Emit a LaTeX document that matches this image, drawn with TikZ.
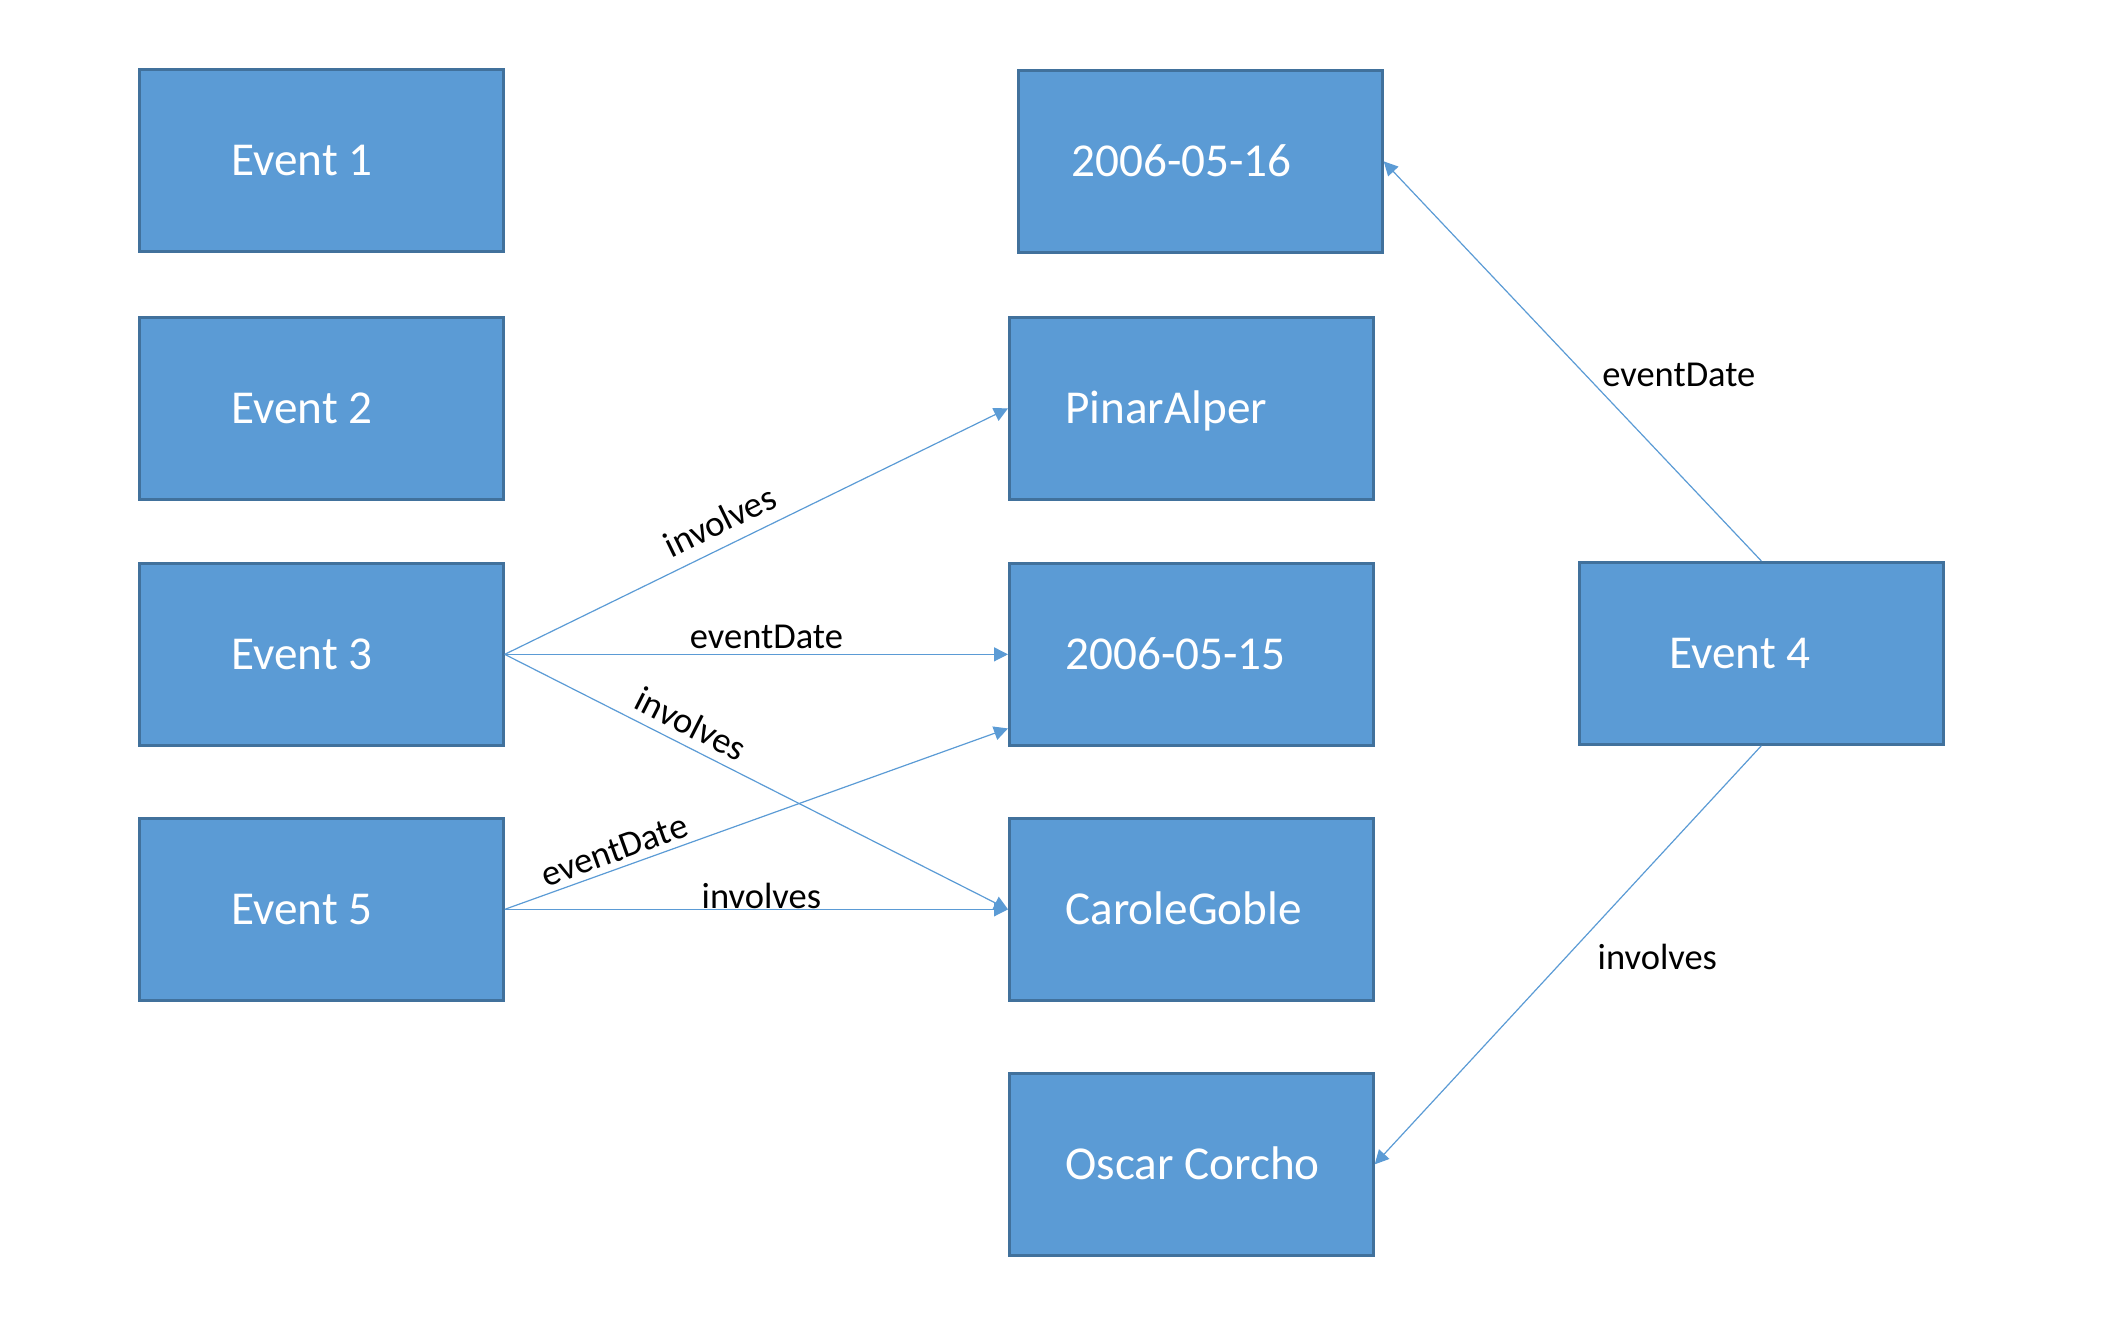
\documentclass[tikz,border=0pt]{standalone}
\usepackage{fontspec}
\setmainfont{Carlito}
\usetikzlibrary{arrows.meta}
\definecolor{boxfill}{HTML}{5B9BD5}
\definecolor{boxline}{HTML}{41719C}
\definecolor{arrowc}{HTML}{5B9BD5}
\begin{document}
\begin{tikzpicture}[x=1pt,y=-1pt,
  box/.style={draw=boxline, fill=boxfill, line width=2.7pt, anchor=north west,
    minimum height=182pt, text=white, font=\fontsize{47.2}{47.2}\selectfont,
    text height=29.8pt, text depth=0pt, inner ysep=0pt},
  conn/.style={draw=arrowc, line width=1.2pt, -{Triangle[length=14pt,width=14pt]}},
  lbl/.style={text=black, font=\fontsize{36.5}{36.5}\selectfont, inner sep=0pt}
]
\useasboundingbox (0,0) rectangle (2128,1328);
\node[box, inner xsep=92pt] (e1) at (138,68) {\makebox[180pt][l]{Event 1}};
\node[box, inner xsep=92pt] (e2) at (138,316) {\makebox[180pt][l]{Event 2}};
\node[box, inner xsep=92pt] (e3) at (138,562) {\makebox[180pt][l]{Event 3}};
\node[box, inner xsep=92pt] (e5) at (138,817) {\makebox[180pt][l]{Event 5}};
\node[box, inner xsep=53pt] (d16) at (1017,69) {\makebox[258pt][l]{2006-05-16}};
\node[box, inner xsep=56pt] (pa) at (1008,316) {\makebox[252pt][l]{PinarAlper}};
\node[box, inner xsep=56pt] (d15) at (1008,562) {\makebox[252pt][l]{2006-05-15}};
\node[box, inner xsep=56pt] (cg) at (1008,817) {\makebox[252pt][l]{CaroleGoble}};
\node[box, inner xsep=56pt] (oc) at (1008,1072) {\makebox[252pt][l]{Oscar Corcho}};
\node[box, inner xsep=90pt] (e4) at (1578,561) {\makebox[184pt][l]{Event 4}};

\draw[conn] (e3.east) -- (pa.west) node[lbl, sloped, pos=0.45, above=12pt] {involves};
\draw[conn] (e3.east) -- (d15.west) node[lbl, pos=0.52, above=5pt] {eventDate};
\draw[conn] (e3.east) -- (cg.west) node[lbl, sloped, pos=0.35, above=9pt] {involves};
\draw[conn] (e5.east) -- (d15.202.6) node[lbl, sloped, pos=0.23, above=6pt] {eventDate};
\draw[conn] (e5.east) -- (cg.west) node[lbl, pos=0.51, above=0pt] {involves};
\draw[conn] (e4.north) -- (d16.east) node[lbl, pos=0.465, right=16pt] {eventDate};
\draw[conn] (e4.south) -- (oc.east) node[lbl, pos=0.505, right=31pt] {involves};
\end{tikzpicture}
\end{document}
